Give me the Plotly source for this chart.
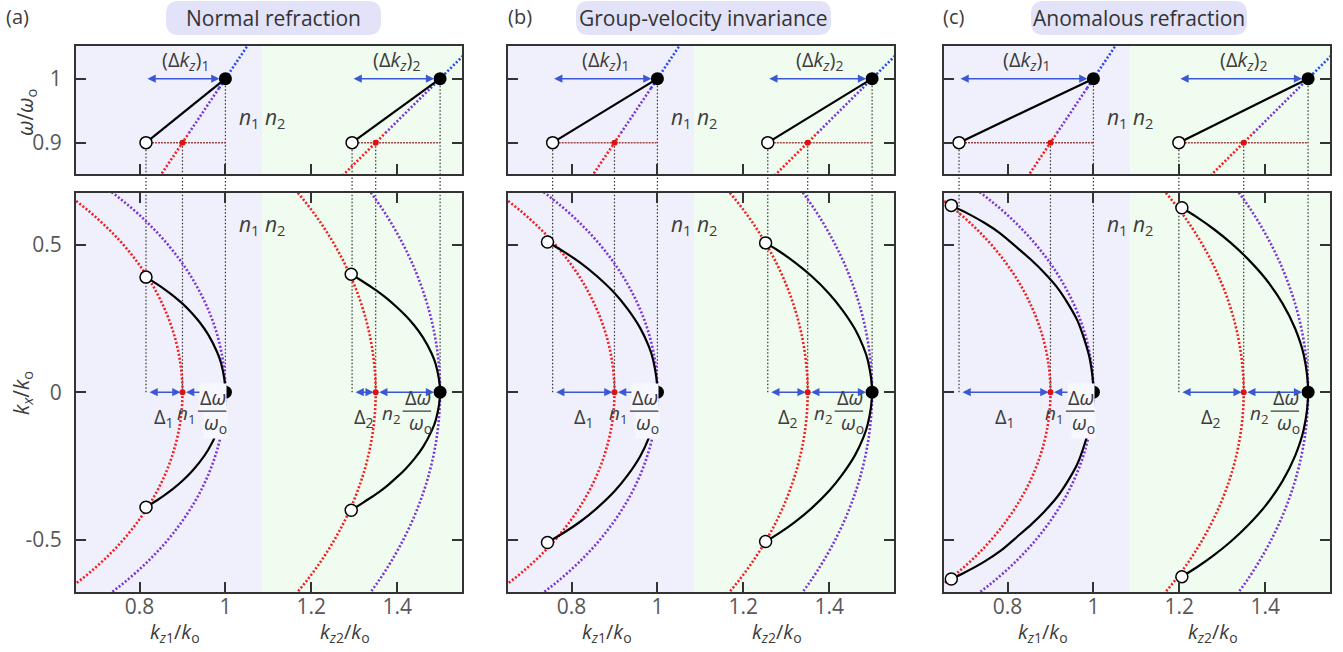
import plotly.graph_objects as go

# ---------------------------------------------------------------- data
CASE_TAGS = ["(a)", "(b)", "(c)"]
CASE_TITLES = ["Normal refraction", "Group-velocity invariance", "Anomalous refraction"]

N_INDEX = [1.0, 1.5]          # n1, n2 : kz/ko of the ω = ωo point at kx = 0
OMEGA_HI = 1.0                # ω/ωo of the filled point
OMEGA_LO = 0.9                # ω/ωo of the open point
KZ_INTERFACE = 1.086          # n1 | n2 boundary

# kz/ko of the open point on the ω–kz plane, [medium 1, medium 2]
KZ_OPEN = [[0.815, 1.295], [0.756, 1.257], [0.687, 1.199]]

# spectral support on the kx–kz plane (upper half, ends at the filled point)
SUPPORT_KZ = [
    [[0.815, 0.84, 0.86, 0.88, 0.90, 0.92, 0.94, 0.96, 0.98, 0.99, 1.0],
     [1.293, 1.32, 1.34, 1.36, 1.38, 1.40, 1.42, 1.44, 1.46, 1.48, 1.49, 1.5]],
    [[0.744, 0.78, 0.82, 0.86, 0.90, 0.93, 0.96, 0.98, 0.99, 1.0],
     [1.252, 1.28, 1.32, 1.36, 1.40, 1.43, 1.46, 1.48, 1.49, 1.5]],
    [[0.669, 0.70, 0.746, 0.785, 0.823, 0.856, 0.886, 0.915, 0.94, 0.962, 0.979, 0.992, 1.0],
     [1.206, 1.24, 1.28, 1.32, 1.36, 1.40, 1.44, 1.47, 1.49, 1.5]],
]
SUPPORT_KX = [
    [[0.39, 0.367, 0.347, 0.325, 0.300, 0.271, 0.237, 0.195, 0.138, 0.098, 0.0],
     [0.400, 0.375, 0.356, 0.336, 0.313, 0.287, 0.259, 0.226, 0.186, 0.132, 0.094, 0.0]],
    [[0.509, 0.478, 0.439, 0.392, 0.336, 0.283, 0.217, 0.155, 0.11, 0.0],
     [0.506, 0.481, 0.440, 0.392, 0.334, 0.280, 0.214, 0.152, 0.108, 0.0]],
    [[0.633, 0.611, 0.574, 0.536, 0.489, 0.447, 0.404, 0.356, 0.302, 0.245, 0.178, 0.11, 0.0],
     [0.625, 0.594, 0.553, 0.506, 0.451, 0.386, 0.302, 0.215, 0.125, 0.0]],
]

# iso-frequency contours on the kx–kz plane: semi-axes along kz and kx
RING_HI_KZ = [1.0, 1.5]
RING_HI_KX = [1.0, 1.5]
RING_LO_KZ = [0.9, 1.35]
RING_LO_KX = [0.94, 1.35]

# light line ω = kz/n, coloured by frequency band
LIGHT_OMEGA = [0.80, 0.915, 0.985, 1.10]

X_TICKS = [0.8, 1.0, 1.2, 1.4]
X_TICKTEXT = ["0.8", "1", "1.2", "1.4"]
Y_TOP_TICKS = [0.9, 1.0]
Y_TOP_TICKTEXT = ["0.9", "1"]
Y_BOT_TICKS = [-0.5, 0.0, 0.5]
Y_BOT_TICKTEXT = ["-0.5", "0", "0.5"]

X_RANGE = [0.652, 1.551]
Y_TOP_RANGE = [0.851, 1.051]
Y_BOT_RANGE = [-0.677, 0.675]

# ---------------------------------------------------------------- style
W, H = 1343, 652
FONT = "Open Sans"
TXT = "#3c3c3c"
TICK_TXT = "#585858"
FRAME = "#333333"
RED = "#f21d1d"
PURPLE = "#7b34d6"
BLUE = "#2a47f0"
ARROW = "#3b57d4"
DKRED = "#9c4646"
BG = ["#f0f0fd", "#f0fcf0"]
MASK = "#f7f7ff"
PILL = "#e2e2f8"
LIGHT_COLORS = [RED, PURPLE, BLUE]

COL_PX = [(76, 462), (508, 894), (944, 1330)]
TOP_PX = (46, 174)
BOT_PX = (193, 592)
PILL_PX = [(166, 381), (576, 831), (1031, 1247)]
TAG_PX = [17, 520, 953]
FRAC_SHIFT = [2, -8]

DOT = "2px,2px"


def px_x(p):
    return p / W


def px_y(p):
    return 1 - p / H


def suffix(i):
    return "" if i == 1 else str(i)


def axis_style():
    return dict(showline=True, linecolor=FRAME, linewidth=2, ticks="inside",
                ticklen=10, tickwidth=2, tickcolor=FRAME, showgrid=False,
                zeroline=False, fixedrange=True,
                tickfont=dict(family=FONT, size=21, color=TICK_TXT))


def paper_text(xp, yp, text, size=20, color=TXT, **kw):
    return dict(xref="paper", yref="paper", x=px_x(xp), y=px_y(yp), xanchor="center",
                yanchor="middle", showarrow=False, text=text,
                font=dict(family=FONT, size=size, color=color), **kw)


fig = go.Figure()
shapes = []
annotations = []
axes = {}

dom_top = [px_y(TOP_PX[1]), px_y(TOP_PX[0])]
dom_bot = [px_y(BOT_PX[1]), px_y(BOT_PX[0])]

for ci in range(3):
    it, ib = 2 * ci + 1, 2 * ci + 2
    xt, yt = "x" + suffix(it), "y" + suffix(it)
    xb, yb = "x" + suffix(ib), "y" + suffix(ib)
    dom_x = [px_x(COL_PX[ci][0]), px_x(COL_PX[ci][1])]

    axes["xaxis" + suffix(it)] = dict(domain=dom_x, range=X_RANGE, anchor=yt,
                                      tickvals=X_TICKS, showticklabels=False,
                                      mirror=True, **axis_style())
    axes["yaxis" + suffix(it)] = dict(domain=dom_top, range=Y_TOP_RANGE, anchor=xt,
                                      tickvals=Y_TOP_TICKS, ticktext=Y_TOP_TICKTEXT,
                                      showticklabels=(ci == 0), ticklabelstandoff=8,
                                      mirror="ticks", **axis_style())
    axes["xaxis" + suffix(ib)] = dict(domain=dom_x, range=X_RANGE, anchor=yb,
                                      tickvals=X_TICKS, ticktext=X_TICKTEXT,
                                      ticklabelstandoff=-5,
                                      mirror="ticks", **axis_style())
    axes["yaxis" + suffix(ib)] = dict(domain=dom_bot, range=Y_BOT_RANGE, anchor=xb,
                                      tickvals=Y_BOT_TICKS, ticktext=Y_BOT_TICKTEXT,
                                      showticklabels=(ci == 0), ticklabelstandoff=8,
                                      mirror="ticks", **axis_style())

    # medium backgrounds
    for xa, ya in ((xt, yt), (xb, yb)):
        for si, (a, b) in enumerate(((X_RANGE[0], KZ_INTERFACE), (KZ_INTERFACE, X_RANGE[1]))):
            shapes.append(dict(type="rect", xref=xa, yref=ya + " domain", x0=a, x1=b,
                               y0=0, y1=1, fillcolor=BG[si], line=dict(width=0),
                               layer="below"))

    for si in range(2):
        n = N_INDEX[si]
        k_open = KZ_OPEN[ci][si]
        k_lo = OMEGA_LO * n
        skz = SUPPORT_KZ[ci][si]
        skx = SUPPORT_KX[ci][si]

        # ---------------- ω–kz panel
        for j, col in enumerate(LIGHT_COLORS):
            w0, w1 = LIGHT_OMEGA[j], LIGHT_OMEGA[j + 1]
            fig.add_trace(go.Scatter(x=[n * w0, n * w1], y=[w0, w1], mode="lines",
                                     line=dict(color=col, width=2.6, dash=DOT),
                                     xaxis=xt, yaxis=yt, hoverinfo="skip"))
        fig.add_trace(go.Scatter(x=[k_open, n], y=[OMEGA_LO, OMEGA_LO], mode="lines",
                                 line=dict(color=DKRED, width=1.5, dash="2px,1px"),
                                 xaxis=xt, yaxis=yt, hoverinfo="skip"))
        fig.add_trace(go.Scatter(x=[k_open, n], y=[OMEGA_LO, OMEGA_HI], mode="lines",
                                 line=dict(color="black", width=2.2),
                                 xaxis=xt, yaxis=yt, hoverinfo="skip"))
        fig.add_trace(go.Scatter(x=[k_lo], y=[OMEGA_LO], mode="markers",
                                 marker=dict(color="#e01010", size=6),
                                 xaxis=xt, yaxis=yt, hoverinfo="skip"))
        fig.add_trace(go.Scatter(x=[k_open], y=[OMEGA_LO], mode="markers",
                                 marker=dict(color="white", size=12,
                                             line=dict(color="black", width=1.5)),
                                 xaxis=xt, yaxis=yt, hoverinfo="skip"))
        fig.add_trace(go.Scatter(x=[n], y=[OMEGA_HI], mode="markers",
                                 marker=dict(color="black", size=13),
                                 xaxis=xt, yaxis=yt, hoverinfo="skip"))

        # guide lines dropping from the ω–kz panel to kx = 0
        for kz, w in ((k_open, OMEGA_LO), (k_lo, OMEGA_LO), (n, OMEGA_HI)):
            guide = dict(color="#333333", width=1.2, dash="1.5px,2px")
            shapes.append(dict(type="line", xref=xt, yref=yt, x0=kz, x1=kz,
                               y0=w, y1=Y_TOP_RANGE[0], line=guide, layer="between"))
            shapes.append(dict(type="line", xref=xt, yref="paper", x0=kz, x1=kz,
                               y0=dom_bot[1], y1=dom_top[0], line=guide))
            shapes.append(dict(type="line", xref=xb, yref=yb, x0=kz, x1=kz,
                               y0=0, y1=Y_BOT_RANGE[1], line=guide, layer="between"))

        annotations.append(dict(xref=xt, yref=yt, x=n, y=OMEGA_HI, axref=xt, ayref=yt,
                                ax=k_open, ay=OMEGA_HI, text="", showarrow=True,
                                arrowside="end+start", arrowhead=2, startarrowhead=2,
                                arrowsize=1.1, startarrowsize=1.1, arrowwidth=1.5,
                                arrowcolor=ARROW, standoff=6, startstandoff=0))
        annotations.append(dict(xref=xt, yref=yt, x=(k_open + n) / 2, y=OMEGA_HI,
                                xanchor="center", yanchor="bottom", yshift=2,
                                showarrow=False,
                                text="(Δ<i>k</i><sub><i>z</i></sub>)<sub>%d</sub>" % (si + 1),
                                font=dict(family=FONT, size=20, color=TXT)))

        # ---------------- kx–kz panel
        for rz, rx, col in ((RING_LO_KZ[si], RING_LO_KX[si], RED),
                            (RING_HI_KZ[si], RING_HI_KX[si], PURPLE)):
            shapes.append(dict(type="circle", xref=xb, yref=yb, x0=-rz, x1=rz,
                               y0=-rx, y1=rx, line=dict(color=col, width=2.6, dash=DOT),
                               layer="between"))

        full_kz = skz + skz[-2::-1]
        full_kx = skx + [-v for v in skx[-2::-1]]
        fig.add_trace(go.Scatter(x=full_kz, y=full_kx, mode="lines",
                                 line=dict(color="black", width=2.2, shape="spline",
                                           smoothing=0.8),
                                 xaxis=xb, yaxis=yb, hoverinfo="skip"))
        fig.add_trace(go.Scatter(x=[k_lo], y=[0], mode="markers",
                                 marker=dict(color="#e01010", size=6),
                                 xaxis=xb, yaxis=yb, hoverinfo="skip"))
        fig.add_trace(go.Scatter(x=[skz[0], skz[0]], y=[skx[0], -skx[0]], mode="markers",
                                 marker=dict(color="white", size=12,
                                             line=dict(color="black", width=1.5)),
                                 xaxis=xb, yaxis=yb, hoverinfo="skip"))
        fig.add_trace(go.Scatter(x=[n], y=[0], mode="markers",
                                 marker=dict(color="black", size=13),
                                 xaxis=xb, yaxis=yb, hoverinfo="skip"))

        for a, b, so in ((k_open, k_lo, 2), (k_lo, n, 6)):
            annotations.append(dict(xref=xb, yref=yb, x=b, y=0, axref=xb, ayref=yb,
                                    ax=a, ay=0, text="", showarrow=True,
                                    arrowside="end+start", arrowhead=2, startarrowhead=2,
                                    arrowsize=1.1, startarrowsize=1.1, arrowwidth=1.5,
                                    arrowcolor=ARROW, standoff=so, startstandoff=2))

        annotations.append(dict(xref=xb, yref=yb, x=(k_open + k_lo) / 2, y=0,
                                xanchor="center", yanchor="top", yshift=-9,
                                showarrow=False, text="Δ<sub>%d</sub>" % (si + 1),
                                font=dict(family=FONT, size=20, color=TXT)))
        fs = FRAC_SHIFT[si]
        mask = MASK if si == 0 else "rgba(0,0,0,0)"
        annotations.append(dict(xref=xb, yref=yb, x=n, y=0, xanchor="right",
                                xshift=fs - 29, yanchor="middle", yshift=-22,
                                showarrow=False, text="<i>n</i><sub>%d</sub>" % (si + 1),
                                font=dict(family=FONT, size=19, color=TXT)))
        annotations.append(dict(xref=xb, yref=yb, x=n, y=0, xanchor="right",
                                xshift=fs, yanchor="bottom", yshift=-20, borderpad=0,
                                bgcolor=mask, showarrow=False, text="Δ<i>ω</i>",
                                font=dict(family=FONT, size=20, color=TXT)))
        annotations.append(dict(xref=xb, yref=yb, x=n, y=0, xanchor="right",
                                xshift=fs + 1, yanchor="top", yshift=-16, borderpad=0,
                                bgcolor=mask, showarrow=False,
                                text="<i>ω</i><sub>o</sub>",
                                font=dict(family=FONT, size=20, color=TXT)))
        annotations.append(dict(xref=xb, yref=yb, x=n, y=0, xshift=fs - 1, yshift=-19,
                                axref="pixel", ayref="pixel", ax=-30, ay=0, text="",
                                showarrow=True, arrowhead=0, arrowwidth=1.3,
                                arrowcolor=TXT, standoff=0))

    # medium labels
    for xa, ya, yv in ((xt, yt, 0.938), (xb, yb, 0.565)):
        annotations.append(dict(xref=xa, yref=ya, x=KZ_INTERFACE, y=yv, xanchor="center",
                                yanchor="middle", showarrow=False,
                                text="<i>n</i><sub>1</sub> <i>n</i><sub>2</sub>",
                                font=dict(family=FONT, size=21, color=TXT)))

    # axis titles under the kx–kz panel
    for kz, t in ((0.882, "<i>k</i><sub><i>z</i>1</sub>/<i>k</i><sub>o</sub>"),
                  (1.279, "<i>k</i><sub><i>z</i>2</sub>/<i>k</i><sub>o</sub>")):
        annotations.append(dict(xref=xb, yref="paper", x=kz, y=px_y(632), xanchor="center",
                                yanchor="middle", showarrow=False, text=t,
                                font=dict(family=FONT, size=20, color=TXT)))

    # case tag and title pill
    annotations.append(paper_text(TAG_PX[ci], 17, CASE_TAGS[ci]))
    p0, p1 = PILL_PX[ci]
    r = 13
    xa_, xb_ = px_x(p0), px_x(p1)
    yt_, yb_ = px_y(1), px_y(35)
    rx, ry = r / W, r / H
    path = (f"M {xa_ + rx},{yt_} L {xb_ - rx},{yt_} Q {xb_},{yt_} {xb_},{yt_ - ry} "
            f"L {xb_},{yb_ + ry} Q {xb_},{yb_} {xb_ - rx},{yb_} "
            f"L {xa_ + rx},{yb_} Q {xa_},{yb_} {xa_},{yb_ + ry} "
            f"L {xa_},{yt_ - ry} Q {xa_},{yt_} {xa_ + rx},{yt_} Z")
    shapes.append(dict(type="path", xref="paper", yref="paper", path=path,
                       fillcolor=PILL, line=dict(width=0), layer="below"))
    annotations.append(paper_text((p0 + p1) / 2, 18, CASE_TITLES[ci], size=21,
                                  color="#333333"))

# vertical axis titles
annotations.append(paper_text(26, 113, "<i>ω</i>/<i>ω</i><sub>o</sub>", size=21,
                              textangle=-90))
annotations.append(paper_text(22, 393, "<i>k</i><sub><i>x</i></sub>/<i>k</i><sub>o</sub>",
                              size=21, textangle=-90))

fig.update_layout(width=W, height=H, margin=dict(l=0, r=0, t=0, b=0),
                  paper_bgcolor="white", plot_bgcolor="white", showlegend=False,
                  shapes=shapes, annotations=annotations, **axes)

fig.write_html("out.html")
